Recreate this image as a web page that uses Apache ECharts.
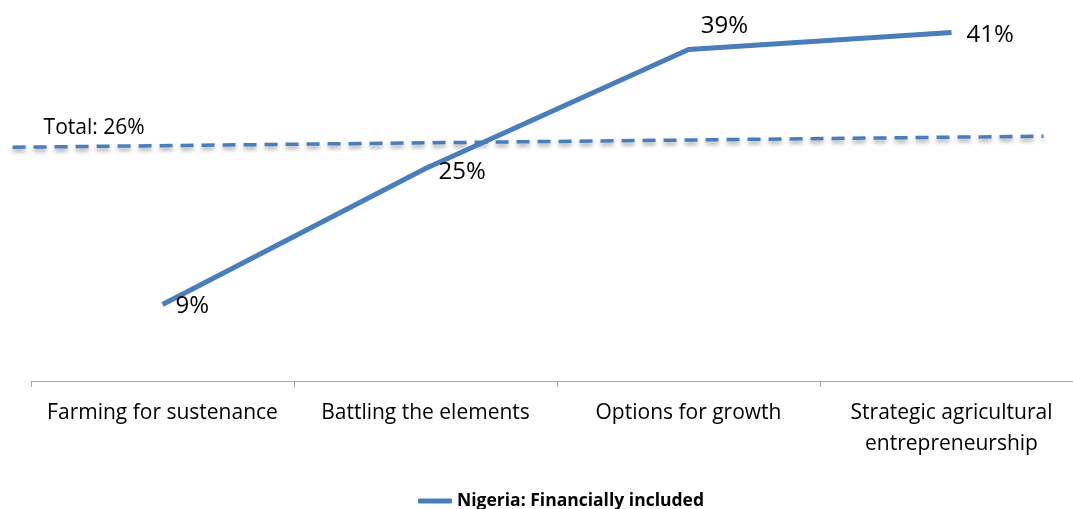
<!DOCTYPE html>
<html>
<head>
<meta charset="utf-8">
<script src="https://cdn.jsdelivr.net/npm/echarts@6/dist/echarts.min.js"></script>
<style>
	html, body { margin: 0; padding: 0; background: #fff; }
	#chart { width: 1073px; height: 509px; }
</style>
</head>
<body>
<div id="chart"></div>
<script>
// 分类与数据
const categories = ['Farming for sustenance', 'Battling the elements', 'Options for growth', 'Strategic agricultural\nentrepreneurship'];
const includedValues = [9, 25, 39, 41];
const labelPositions = ['right', 'right', 'top', 'right'];
// 总体虚线 (x 为分类序号，可超出首尾分类)
const totalLineX = [-0.57, 3.35];
const totalLineY = [27.5, 28.8];
const totalLabel = 'Total: 26%';
const seriesName = 'Nigeria: Financially included';

const chart = echarts.init(document.getElementById('chart'));
const blue = '#4a7ebb';
const font = '"Open Sans", sans-serif';

// 各数据标签的偏移
const labelOffsets = [[0, 2], [0, 3.5], [36, 2], [2, 3]];

const option = {
	animation: false,
	grid: [{
		left: 31,
		width: 1052,
		top: 7,
		bottom: 128,
		outerBoundsMode: 'none'
	}, {
		// 覆盖整个宽度的第二个坐标系，用于虚线
		left: 0,
		right: 0,
		top: 7,
		bottom: 128,
		outerBoundsMode: 'none'
	}],
	legend: {
		top: 487,
		left: 413,
		data: [seriesName],
		icon: 'roundRect',
		itemWidth: 34,
		itemHeight: 5,
		itemStyle: { color: blue },
		textStyle: {
			fontFamily: font,
			fontWeight: 'bold',
			fontSize: 17.5,
			color: '#000'
		}
	},
	xAxis: [{
		type: 'category',
		gridIndex: 0,
		data: categories,
		boundaryGap: true,
		axisLine: { lineStyle: { color: '#a6a6a6', width: 1 } },
		axisTick: { show: true, interval: 0, length: 6, lineStyle: { color: '#a6a6a6' } },
		axisLabel: {
			interval: 0,
			fontFamily: font,
			fontSize: 21,
			color: '#000',
			margin: 17,
			lineHeight: 31
		}
	}, {
		// 隐藏的数值轴：与分类序号对齐
		type: 'value',
		gridIndex: 1,
		show: false,
		min: -0.5 - 31 / 263,
		max: -0.5 + (1073 - 31) / 263
	}],
	yAxis: [{
		type: 'value',
		gridIndex: 0,
		min: 0,
		max: 44,
		show: false,
		splitLine: { show: false }
	}, {
		type: 'value',
		gridIndex: 1,
		min: 0,
		max: 44,
		show: false,
		splitLine: { show: false }
	}],
	series: [{
		name: seriesName,
		type: 'line',
		xAxisIndex: 0,
		yAxisIndex: 0,
		data: includedValues.map(function(v, i) {
			return {
				value: v,
				label: { position: labelPositions[i], offset: labelOffsets[i] }
			};
		}),
		symbol: 'circle',
		symbolSize: 0,
		showSymbol: true,
		lineStyle: { color: blue, width: 5 },
		itemStyle: { color: blue },
		label: {
			show: true,
			formatter: '{c}%',
			fontFamily: font,
			fontSize: 24,
			color: '#000',
			distance: 13
		},
		z: 3
	}, {
		name: 'Total',
		type: 'line',
		xAxisIndex: 1,
		yAxisIndex: 1,
		data: totalLineX.map(function(x, i) {
			return [x, totalLineY[i]];
		}),
		symbol: 'circle',
		symbolSize: 0,
		showSymbol: true,
		lineStyle: {
			color: blue,
			width: 3.5,
			type: [13, 8],
			shadowColor: 'rgba(0,0,0,0.35)',
			shadowBlur: 4,
			shadowOffsetY: 3
		},
		itemStyle: { color: blue },
		label: {
			show: true,
			formatter: function(p) {
				return p.dataIndex === 0 ? totalLabel : '';
			},
			position: 'top',
			align: 'left',
			offset: [31, -4],
			fontFamily: font,
			fontSize: 21,
			color: '#000'
		},
		z: 2
	}]
};

chart.setOption(option);
</script>
</body>
</html>
